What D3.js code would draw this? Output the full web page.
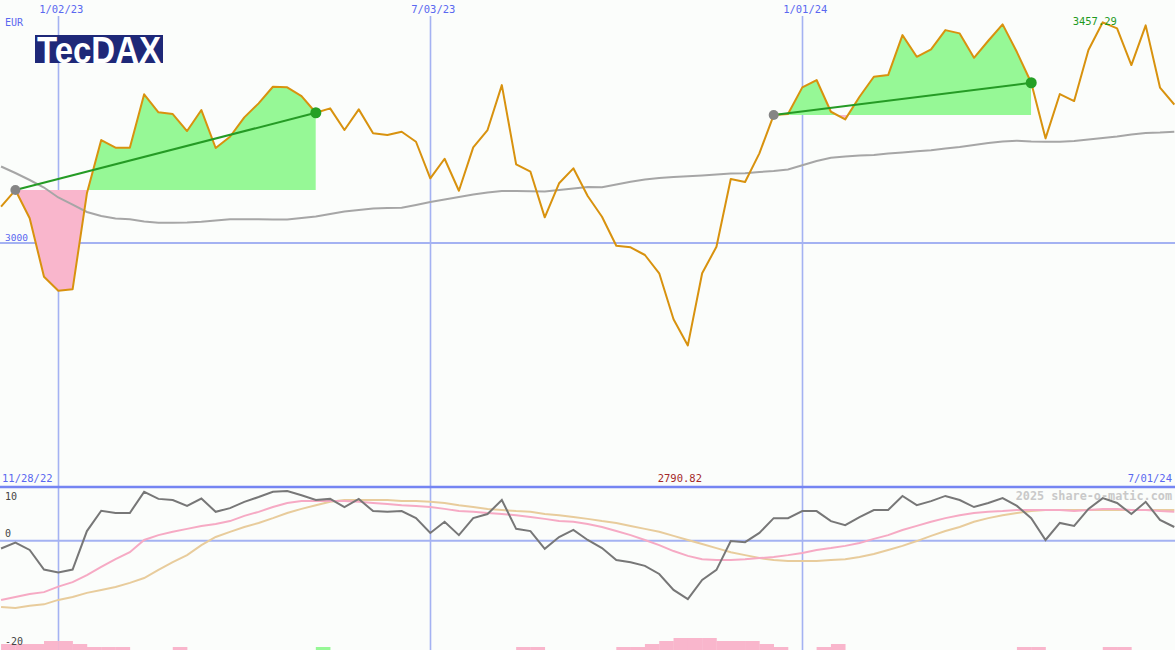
<!DOCTYPE html>
<html><head><meta charset="utf-8">
<script src="https://cdn.jsdelivr.net/npm/d3@7"></script>
<style>html,body{margin:0;padding:0;background:#fbfdfb;}svg{display:block;}</style>
</head><body>
<script>
// ---- data (weekly, index 0 = week of 12/05/22) ----
const price = [3076.9,3111.3,3053.0,2932.6,2903.7,2906.6,3104.5,3214.4,3198.6,3198.6,
3308.7,3271.6,3268.0,3233.0,3276.3,3198.0,3221.2,3261.2,3290.1,3324.3,
3323.1,3305.2,3270.7,3279.8,3235.1,3277.7,3228.3,3224.7,3231.6,3210.9,
3135.5,3175.9,3109.9,3199.4,3235.1,3327.8,3164.3,3149.1,3055.0,3125.2,
3156.1,3099.0,3056.3,2996.5,2993.2,2977.3,2939.6,2844.7,2790.82,2939.6,
2994.4,3134.0,3127.8,3187.0,3266.0,3268.0,3323.1,3338.2,3272.8,3257.1,
3303.7,3345.0,3348.5,3430.9,3386.2,3401.4,3441.2,3434.4,3384.1,3419.2,
3453.0,3395.9,3332.6,3217.9,3309.3,3294.9,3400.0,3457.29,3444.8,3369.1,
3450.9,3322.7,3287.6];
const movingAvg = [3159.8,3146.4,3132.0,3116.5,3095.9,3081.4,3066.0,3057.7,3052.6,3050.9,
3046.4,3043.9,3043.9,3044.3,3045.8,3048.5,3050.9,3050.9,3050.9,3050.3,
3050.5,3053.6,3056.7,3061.9,3067.0,3070.1,3073.2,3074.2,3074.8,3080.4,
3086.6,3091.8,3096.9,3102.1,3106.2,3109.3,3109.3,3108.7,3108.2,3111.3,
3114.4,3117.5,3116.9,3122.7,3128.5,3133.0,3136.1,3138.1,3139.6,3141.2,
3143.3,3145.4,3145.8,3148.5,3150.5,3153.6,3162.3,3171.1,3177.7,3180.4,
3182.5,3183.5,3186.6,3188.7,3191.1,3193.4,3196.9,3200.0,3204.1,3208.3,
3211.3,3213.0,3211.3,3210.9,3210.9,3212.4,3215.5,3218.6,3221.7,3225.8,
3228.9,3229.9,3231.6];
const oscillator = [-2.1,-0.5,-2.5,-7.8,-8.6,-7.8,2.6,8.1,7.5,7.5,
13.2,11.3,11.0,9.4,11.4,7.8,8.8,10.5,11.8,13.2,
13.4,12.3,11.0,11.3,9.1,11.3,8.0,7.8,8.0,6.1,
2.1,5.1,1.5,6.1,7.2,11.0,3.2,2.6,-2.2,1.0,
2.9,0.2,-2.0,-5.2,-5.8,-6.8,-9.0,-13.3,-15.8,-10.6,
-7.9,-0.1,-0.4,2.1,6.1,6.1,8.0,8.0,5.3,4.2,
6.4,8.3,8.3,12.1,9.6,10.7,12.1,11.0,9.1,10.2,
11.5,9.4,6.1,0.2,4.8,4.0,8.6,11.5,10.2,7.2,
10.5,5.6,3.7];
const signalFast = [-16.0,-15.2,-14.4,-13.9,-12.4,-11.2,-9.3,-7.1,-5.0,-3.1,
0.2,1.5,2.4,3.2,4.0,4.5,5.3,6.7,7.8,9.1,
10.2,10.7,10.7,10.7,10.7,10.5,10.2,9.9,9.6,9.4,
9.1,8.6,8.0,7.8,7.5,7.2,6.9,6.4,5.9,5.3,
5.1,4.5,3.7,2.6,1.5,0.2,-1.2,-2.8,-4.1,-5.0,
-5.2,-5.2,-5.0,-4.7,-4.4,-3.9,-3.3,-2.5,-2.0,-1.4,
-0.6,0.5,1.5,2.9,4.0,5.1,6.1,6.9,7.5,7.8,
8.0,8.3,8.3,8.3,8.3,8.0,8.3,8.6,8.6,8.3,
8.3,8.0,7.8];
const signalSlow = [-17.9,-18.2,-17.6,-17.2,-16.0,-15.2,-14.1,-13.3,-12.5,-11.4,
-10.1,-7.9,-5.8,-3.9,-1.2,1.0,2.4,3.7,4.8,6.1,
7.5,8.6,9.6,10.5,11.0,11.0,11.0,11.0,10.7,10.7,
10.5,10.2,9.6,9.1,8.6,8.3,8.0,7.8,7.2,6.9,
6.4,5.9,5.3,4.8,4.0,3.2,2.4,1.3,0.2,-0.9,
-2.0,-3.1,-3.9,-4.7,-5.2,-5.5,-5.5,-5.5,-5.2,-5.0,
-4.4,-3.6,-2.5,-1.4,-0.1,1.3,2.6,3.7,5.1,6.1,
6.9,7.5,8.0,8.3,8.3,8.3,8.3,8.3,8.3,8.3,
8.3,8.3,8.3];
const barLevels = [-2,-2,-2,-3,-3,-2,-1,-1,-1,0,
0,0,-1,0,0,0,0,0,0,0,
0,0,1,0,0,0,0,0,0,0,
0,0,0,0,0,0,-1,-1,0,0,
0,0,0,-1,-1,-2,-3,-4,-4,-4,
-3,-3,-3,-2,-1,0,0,-1,-2,0,
0,0,0,0,0,0,0,0,0,0,
0,-1,-1,0,0,0,0,-1,-1,0,
0,0,0];
const trendSegments = [[1,22],[54,72]];
const dateTickIdx = [4,30,56];
const dateTickLabels = ["1/02/23","7/03/23","1/01/24"];
const priceGrid = [3000];
const oscTicks = [10,0,-20];
const startLabel = "11/28/22", endLabel = "7/01/24";
const currency = "EUR", title = "TecDAX", watermark = "2025 share-o-matic.com";

// ---- layout ----
const W = 1175, H = 650;
const svg = d3.select("body").append("svg").attr("width", W).attr("height", H)
  .style("font-family", "'DejaVu Sans Mono', monospace");
svg.append("rect").attr("width", W).attr("height", H).attr("fill", "#fbfdfb");

const x = d3.scaleLinear().domain([4, 56]).range([58.3, 802.3]);
const y = d3.scaleLinear().domain([3000, 3457.29]).range([244, 22.3]);
const yo = d3.scaleLinear().domain([0, 10]).range([540.7, 503.7]);
const yb = d3.scaleLinear().domain([0, 4]).range([650, 638]);

const defs = svg.append("defs");
defs.append("clipPath").attr("id", "topclip").append("rect").attr("x", 0).attr("y", 0).attr("width", W).attr("height", 486);
defs.append("clipPath").attr("id", "botclip").append("rect").attr("x", 0).attr("y", 488).attr("width", W).attr("height", H - 488);

const gridC = "#a4b2f2";
svg.append("g").selectAll("line").data(dateTickIdx).join("line")
  .attr("x1", d => Math.round(x(d)) + 0.5).attr("x2", d => Math.round(x(d)) + 0.5)
  .attr("y1", 16).attr("y2", H).attr("stroke", gridC).attr("stroke-width", 1.6);
svg.append("g").selectAll("line").data(priceGrid).join("line")
  .attr("x1", 0).attr("x2", W).attr("y1", d => y(d) - 1).attr("y2", d => y(d) - 1)
  .attr("stroke", gridC).attr("stroke-width", 2);

// ---- top panel ----
const topG = svg.append("g").attr("clip-path", "url(#topclip)");
const idx = d3.range(price.length);

trendSegments.forEach(([a, b], si) => {
  const base = price[a];
  const sub = d3.range(a, b + 1);
  const area = d3.area().x(i => x(i)).y0(y(base)).y1(i => y(price[i]));
  const cu = "cu" + si, cd = "cd" + si;
  defs.append("clipPath").attr("id", cu).append("rect").attr("x", x(a)).attr("y", 0).attr("width", x(b) - x(a)).attr("height", y(base));
  defs.append("clipPath").attr("id", cd).append("rect").attr("x", x(a)).attr("y", y(base)).attr("width", x(b) - x(a)).attr("height", 486 - y(base));
  topG.append("path").datum(sub).attr("d", area).attr("fill", "#96f896").attr("clip-path", `url(#${cu})`);
  topG.append("path").datum(sub).attr("d", area).attr("fill", "#f9b6cc").attr("clip-path", `url(#${cd})`);
});

topG.append("path").datum(idx).attr("fill", "none").attr("stroke", "#a6a6a6").attr("stroke-width", 2)
  .attr("d", d3.line().x(i => x(i)).y(i => y(movingAvg[i])));
topG.append("path").datum(idx).attr("fill", "none").attr("stroke", "#d8920e").attr("stroke-width", 2)
  .attr("stroke-linejoin", "round").attr("d", d3.line().x(i => x(i)).y(i => y(price[i])));

trendSegments.forEach(([a, b]) => {
  topG.append("line").attr("x1", x(a)).attr("y1", y(price[a])).attr("x2", x(b)).attr("y2", y(price[b]))
    .attr("stroke", "#259b25").attr("stroke-width", 2);
  topG.append("circle").attr("cx", x(a)).attr("cy", y(price[a])).attr("r", 5).attr("fill", "#858585");
  topG.append("circle").attr("cx", x(b)).attr("cy", y(price[b])).attr("r", 5.5).attr("fill", "#25a025");
});

// logo
svg.append("rect").attr("x", 35).attr("y", 35).attr("width", 128).attr("height", 28).attr("fill", "#1e2878");
svg.append("text").attr("x", 37).attr("y", 63).attr("font-family", "'Liberation Sans', Arial, sans-serif")
  .attr("font-weight", "bold").attr("font-size", 36).attr("fill", "#ffffff")
  .attr("textLength", 124).attr("lengthAdjust", "spacingAndGlyphs").text(title);

// labels top
const blue = "#5a68f0";
svg.append("g").selectAll("text").data(dateTickIdx).join("text")
  .attr("x", d => x(d) + 3).attr("y", 13).attr("text-anchor", "middle")
  .attr("font-size", 10.5).attr("fill", blue).text((d, i) => dateTickLabels[i]);
svg.append("text").attr("x", 5).attr("y", 26).attr("font-size", 10).attr("fill", blue).text(currency);
svg.append("g").selectAll("text").data(priceGrid).join("text")
  .attr("x", 5).attr("y", d => y(d) - 3).attr("font-size", 9.5).attr("fill", blue).text(d => d);

const maxI = d3.maxIndex(price), minI = d3.minIndex(price);
svg.append("text").attr("x", x(maxI) - 8).attr("y", 25).attr("text-anchor", "middle")
  .attr("font-size", 10.5).attr("fill", "#1f9a1f").text(price[maxI].toFixed(2));

// ---- bottom panel ----
svg.append("line").attr("x1", 0).attr("x2", W).attr("y1", 487).attr("y2", 487).attr("stroke", "#7585f2").attr("stroke-width", 2.5);
svg.append("line").attr("x1", 0).attr("x2", W).attr("y1", yo(0)).attr("y2", yo(0)).attr("stroke", gridC).attr("stroke-width", 2);

svg.append("text").attr("x", 2).attr("y", 482).attr("font-size", 10.5).attr("fill", blue).text(startLabel);
svg.append("text").attr("x", 1172).attr("y", 482).attr("text-anchor", "end").attr("font-size", 10.5).attr("fill", blue).text(endLabel);
svg.append("text").attr("x", x(minI) - 8).attr("y", 482).attr("text-anchor", "middle").attr("font-size", 10.5)
  .attr("fill", "#a52a2a").text(price[minI].toFixed(2));

svg.append("text").attr("x", 1172).attr("y", 500).attr("text-anchor", "end").attr("font-size", 11.8)
  .attr("font-weight", "bold").attr("fill", "#c9c9c9").text(watermark);

const botG = svg.append("g").attr("clip-path", "url(#botclip)");
botG.append("g").selectAll("rect").data(idx.filter(i => barLevels[i] !== 0)).join("rect")
  .attr("x", i => x(i)).attr("width", i => x(i + 1) - x(i) + 0.3)
  .attr("y", i => yb(Math.abs(barLevels[i]))).attr("height", i => 650 - yb(Math.abs(barLevels[i])))
  .attr("fill", i => barLevels[i] > 0 ? "#96f896" : "#f9b6cc");

// osc tick labels (drawn over the bars): the lowest one sits at the panel's bottom edge
svg.append("g").selectAll("text").data(oscTicks).join("text")
  .attr("x", 5).attr("y", d => d < 0 ? H - 5 : yo(d) - 4).attr("font-size", 10).attr("fill", "#444").text(d => d);

botG.append("path").datum(idx).attr("fill", "none").attr("stroke", "#e8cc9c").attr("stroke-width", 2)
  .attr("d", d3.line().x(i => x(i)).y(i => yo(signalSlow[i])));
botG.append("path").datum(idx).attr("fill", "none").attr("stroke", "#f6aac4").attr("stroke-width", 2)
  .attr("d", d3.line().x(i => x(i)).y(i => yo(signalFast[i])));
botG.append("path").datum(idx).attr("fill", "none").attr("stroke", "#777").attr("stroke-width", 2)
  .attr("d", d3.line().x(i => x(i)).y(i => yo(oscillator[i])));
</script>
</body></html>
